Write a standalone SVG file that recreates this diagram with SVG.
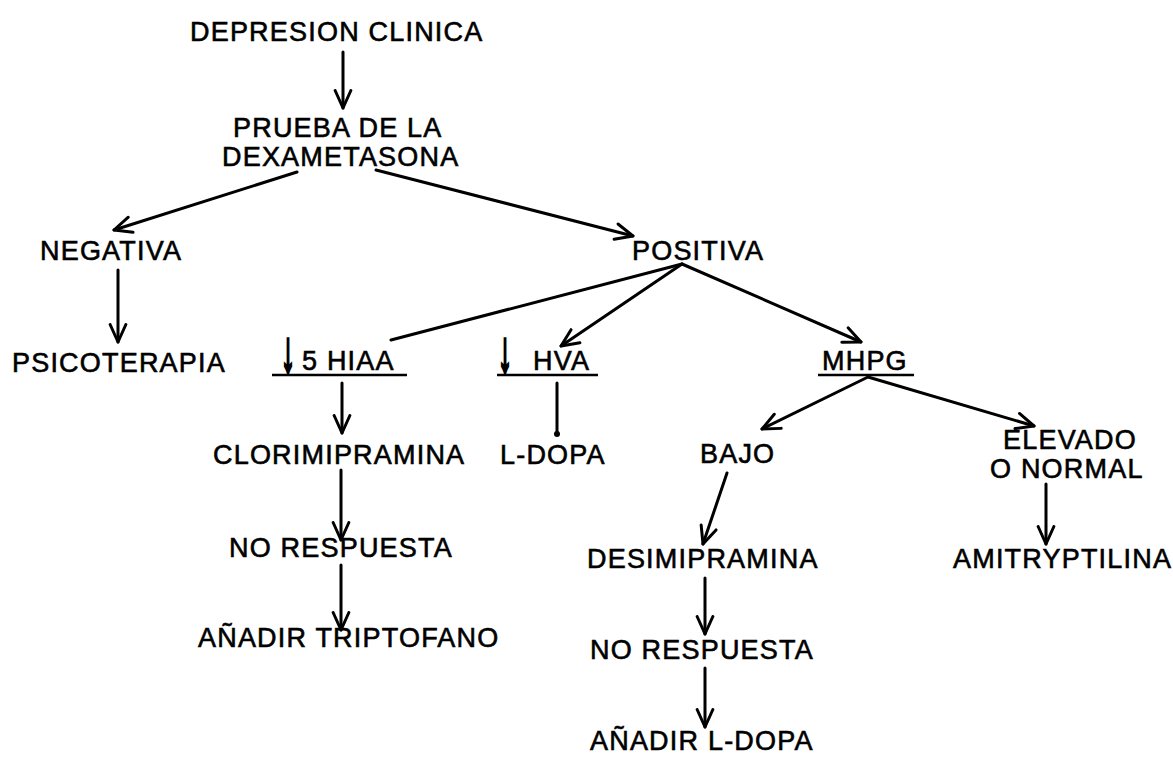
<svg xmlns="http://www.w3.org/2000/svg" width="1173" height="758" viewBox="0 0 1173 758">
<style>
text{font-family:"Liberation Sans",Arial,sans-serif;font-size:27px;fill:#000;stroke:#000;stroke-width:0.6;letter-spacing:1.2px}
.sym{font-family:"Liberation Sans","DejaVu Sans",sans-serif;font-size:28px;letter-spacing:0;text-anchor:middle;stroke-width:1.6}
.ul{stroke:#000;stroke-width:2.5}
.c{fill:none;stroke:#000;stroke-width:3;stroke-linecap:round}
.a{marker-end:url(#arr)}
</style>
<defs>
<marker id="arr" viewBox="0 0 12 12" refX="11" refY="6" markerWidth="7" markerHeight="7" orient="auto" markerUnits="strokeWidth">
<path d="M1,1.5 L11,6 L1,10.5" fill="none" stroke="#000" stroke-width="1.7" stroke-linecap="round" stroke-linejoin="round"/>
</marker>
</defs>
<rect width="1173" height="758" fill="#fff"/>
<g id="n-depresion"><text x="190" y="41">DEPRESION CLINICA</text></g>
<g id="n-prueba"><text x="233" y="137">PRUEBA DE LA</text><text x="222" y="166">DEXAMETASONA</text></g>
<g id="n-negativa"><text x="40" y="260">NEGATIVA</text></g>
<g id="n-positiva"><text x="632" y="260">POSITIVA</text></g>
<g id="n-psicoterapia"><text x="12" y="372">PSICOTERAPIA</text></g>
<g id="n-hiaa"><text class="sym" transform="translate(288 372) scale(1 2.1)" x="0" y="0">↓</text><text x="302" y="370">5 HIAA</text><line class="ul" x1="272" y1="375" x2="407" y2="375"/></g>
<g id="n-hva"><text class="sym" transform="translate(505 372) scale(1 2.1)" x="0" y="0">↓</text><text x="533" y="370">HVA</text><line class="ul" x1="497" y1="375" x2="598" y2="375"/></g>
<g id="n-mhpg"><text x="822" y="370">MHPG</text><line class="ul" x1="818" y1="375" x2="914" y2="375"/></g>
<g id="n-clorimipramina"><text x="213" y="464">CLORIMIPRAMINA</text></g>
<g id="n-ldopa1"><text x="500" y="464">L-DOPA</text></g>
<g id="n-bajo"><text x="700" y="463">BAJO</text></g>
<g id="n-elevado"><text x="1003" y="449">ELEVADO</text><text x="990" y="478">O NORMAL</text></g>
<g id="n-norespuesta1"><text x="229" y="557">NO RESPUESTA</text></g>
<g id="n-triptofano"><text x="198" y="647">AÑADIR TRIPTOFANO</text></g>
<g id="n-desimipramina"><text x="587" y="568">DESIMIPRAMINA</text></g>
<g id="n-amitryptilina"><text x="953" y="568">AMITRYPTILINA</text></g>
<g id="n-norespuesta2"><text x="590" y="659">NO RESPUESTA</text></g>
<g id="n-ldopa2"><text x="590" y="750">AÑADIR L-DOPA</text></g>
<g id="connectors">
<line class="c a" x1="343" y1="52" x2="343" y2="108"/>
<line class="c a" x1="297" y1="172" x2="114" y2="230"/>
<line class="c a" x1="376" y1="170" x2="633" y2="236"/>
<line class="c a" x1="118" y1="270" x2="118" y2="342"/>
<line class="c a" x1="682" y1="264" x2="861" y2="342"/>
<line class="c a" x1="682" y1="264" x2="561" y2="346"/>
<line class="c" x1="682" y1="264" x2="391" y2="340"/>
<line class="c a" x1="342" y1="383" x2="342" y2="433"/>
<line class="c" x1="557" y1="383" x2="557" y2="433"/>
<circle cx="557" cy="434" r="3" fill="#000"/>
<line class="c a" x1="868" y1="377" x2="762" y2="429"/>
<line class="c a" x1="868" y1="377" x2="1034" y2="426"/>
<line class="c a" x1="727" y1="473" x2="703" y2="544"/>
<line class="c a" x1="1046" y1="484" x2="1046" y2="544"/>
<line class="c a" x1="341" y1="470" x2="341" y2="540"/>
<line class="c a" x1="341" y1="565" x2="341" y2="630"/>
<line class="c a" x1="705" y1="578" x2="705" y2="634"/>
<line class="c a" x1="705" y1="668" x2="705" y2="727"/>
</g>
</svg>
